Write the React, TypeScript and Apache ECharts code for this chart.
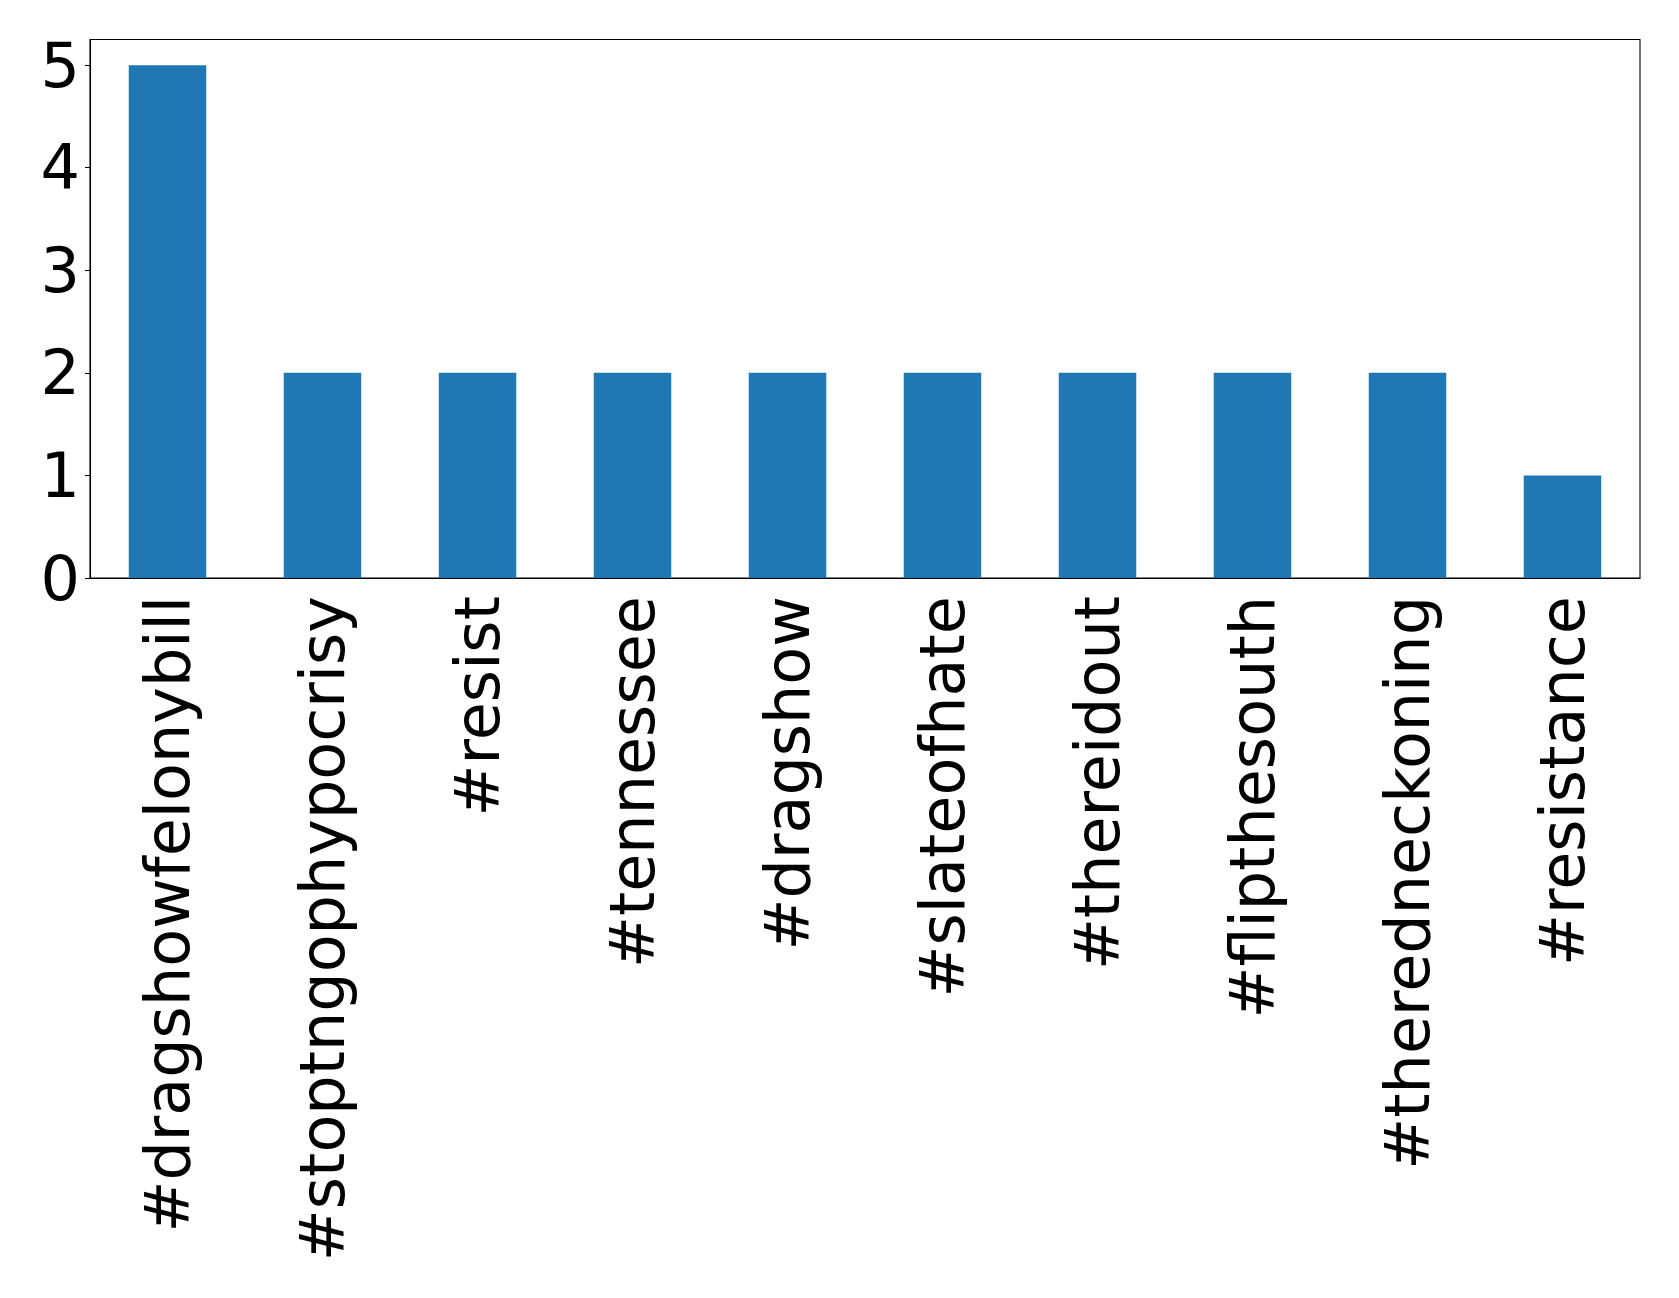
import React, { useEffect, useRef } from "react";
import * as echarts from "echarts";

const categories = [
  "#dragshowfelonybill",
  "#stoptngophypocrisy",
  "#resist",
  "#tennessee",
  "#dragshow",
  "#slateofhate",
  "#thereidout",
  "#flipthesouth",
  "#theredneckoning",
  "#resistance",
];
const counts = [5, 2, 2, 2, 2, 2, 2, 2, 2, 1];
const yMax = 5.25;

export default function App() {
  const ref = useRef<HTMLDivElement>(null);
  useEffect(() => {
    if (!ref.current) return;
    const chart = echarts.init(ref.current, null, { renderer: "svg" });
    const font = "DejaVu Sans";
    chart.setOption({
      animation: false,
      backgroundColor: "#ffffff",
      grid: {
        left: 90,
        top: 39.5,
        right: 39,
        bottom: 720,
        show: true,
        borderColor: "#000",
        borderWidth: 1.1,
        backgroundColor: "transparent",
      },
      xAxis: {
        type: "category",
        data: categories,
        axisLine: { lineStyle: { color: "#000", width: 1.1 } },
        axisTick: { alignWithLabel: true, length: 5, lineStyle: { color: "#000" } },
        axisLabel: {
          rotate: 90,
          interval: 0,
          margin: 18,
          color: "#000",
          fontFamily: font,
          fontSize: 62,
        },
        splitLine: { show: false },
      },
      yAxis: {
        type: "value",
        min: 0,
        max: yMax,
        interval: 1,
        axisLine: { show: true, lineStyle: { color: "#000", width: 1.1 } },
        axisTick: { show: true, length: 5, lineStyle: { color: "#000" } },
        splitLine: { show: false },
        axisLabel: {
          showMaxLabel: false,
          margin: 10,
          color: "#000",
          fontFamily: font,
          fontSize: 62,
          formatter: (v: number) => (Number.isInteger(v) ? String(v) : ""),
        },
      },
      series: [
        {
          type: "bar",
          data: counts,
          barWidth: "50%",
          itemStyle: { color: "#1f77b4" },
        },
      ],
    });
    return () => chart.dispose();
  }, []);
  return (
    <div
      ref={ref}
      style={{ position: "fixed", left: 0, top: 0, width: 1679, height: 1298, background: "#fff" }}
    />
  );
}
